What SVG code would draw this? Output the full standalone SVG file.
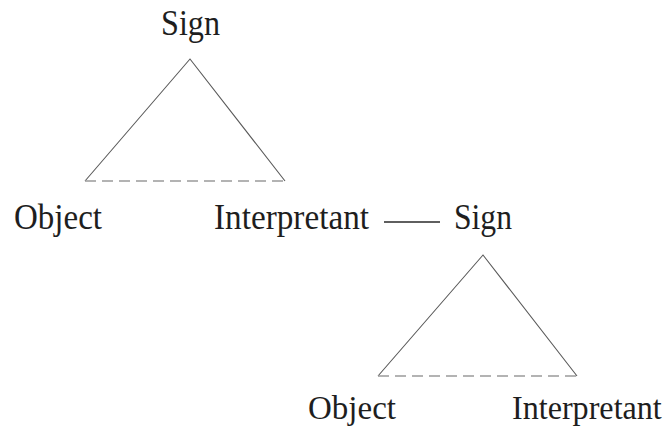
<svg xmlns="http://www.w3.org/2000/svg" width="669" height="432" viewBox="0 0 669 432">
  <style>
    .lbl { font-family: "Liberation Serif", "Times New Roman", serif; font-size: 35px; fill: #1e1e1e; }
    .low { font-size: 34px; }
    .side { stroke: #5a5a5a; stroke-width: 1.1; fill: none; }
    .base { stroke: #9a9a9a; stroke-width: 1.6; stroke-dasharray: 11 6; fill: none; }
    .link { stroke: #2a2a2a; stroke-width: 1.5; }
  </style>
  <rect width="669" height="432" fill="#ffffff"/>

  <!-- first triad -->
  <g id="sign1"><text class="lbl" x="161" y="35" textLength="59" lengthAdjust="spacingAndGlyphs">Sign</text></g>
  <g id="object1"><text class="lbl" x="14" y="229" textLength="88" lengthAdjust="spacingAndGlyphs">Object</text></g>
  <g id="interpretant1"><text class="lbl" x="214" y="229" textLength="155" lengthAdjust="spacingAndGlyphs">Interpretant</text></g>

  <!-- second triad -->
  <g id="sign2"><text class="lbl" x="454" y="229" textLength="58" lengthAdjust="spacingAndGlyphs">Sign</text></g>
  <g id="object2"><text class="lbl low" x="308" y="419" textLength="88" lengthAdjust="spacingAndGlyphs">Object</text></g>
  <g id="interpretant2"><text class="lbl low" transform="translate(512 419) scale(0.945 1)">Interpretant</text></g>

  <g id="connectors">
    <polyline class="side" points="85,181 190,59 285,181"/>
    <line class="base" x1="85" y1="181" x2="285" y2="181"/>
    <line class="link" x1="384" y1="222" x2="440" y2="222"/>
    <polyline class="side" points="378,376 483,255 577,376"/>
    <line class="base" x1="378" y1="376" x2="577" y2="376"/>
  </g>
</svg>
